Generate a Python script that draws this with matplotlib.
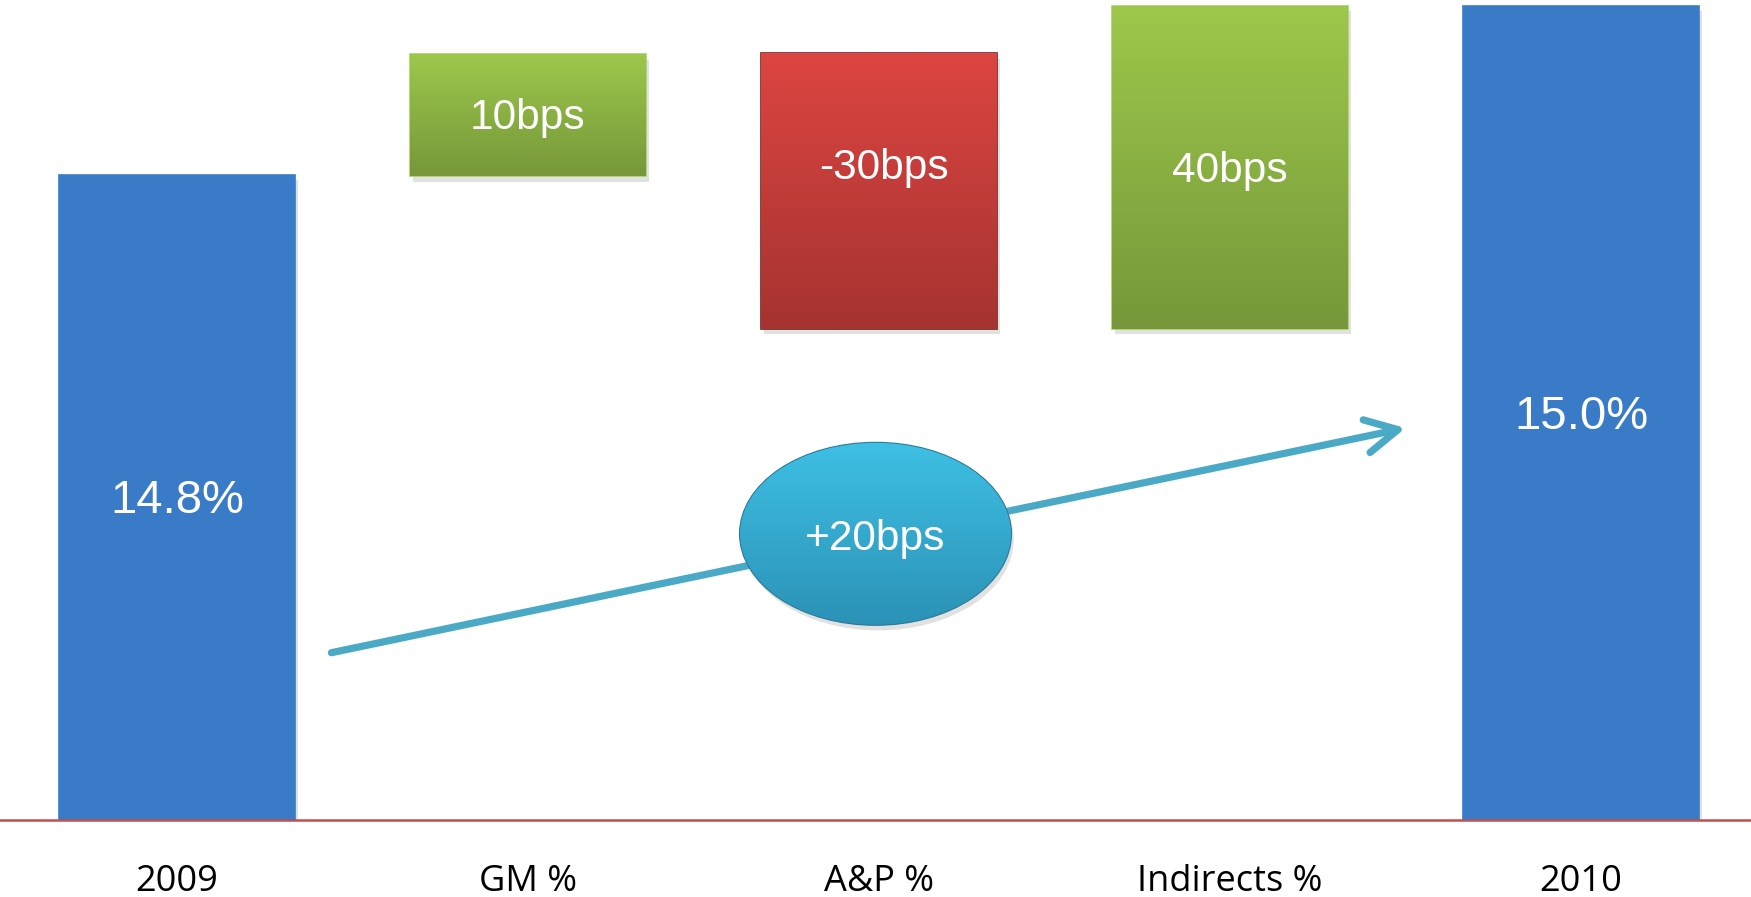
import numpy as np
import matplotlib
matplotlib.use('Agg')
import matplotlib.pyplot as plt
from matplotlib.colors import LinearSegmentedColormap
from matplotlib.patches import Ellipse
import matplotlib.patheffects as pe

# margin bridge 2009 -> 2010 (bars drawn as in the slide, not to scale)
categories = ['2009', 'GM %', 'A&P %', 'Indirects %', '2010']
bar_bottom = [0, 78.5, 59.9, 59.9, 0]
bar_top = [78.7, 93.4, 93.5, 99.3, 99.3]
bar_labels = ['14.8%', '10bps', '-30bps', '40bps', '15.0%']
bar_kind = ['total', 'up', 'down', 'up', 'total']
change_label = '+20bps'

# colours (top, bottom) per kind
kind_colors = {'total': ('#3a7bc8', '#3a7bc8'),
               'up': ('#9dc84b', '#76973a'),
               'down': ('#dc4541', '#a53331')}
edge_colors = {'total': '#3a7bc8', 'up': '#a9d160', 'down': '#6e2220'}

fig = plt.figure(figsize=(17.51, 8.97), dpi=100)
ax = fig.add_axes([0, 77/897, 1, 820/897])

def grad_fill(patch, top, bottom, extent, z):
    cmap = LinearSegmentedColormap.from_list('g', [bottom, top])
    im = ax.imshow(np.linspace(0, 1, 256).reshape(-1, 1), cmap=cmap, extent=extent,
                   origin='lower', aspect='auto', zorder=z, interpolation='bilinear')
    im.set_clip_path(patch)

x = np.arange(len(categories))
w = 0.672
heights = [t - b for t, b in zip(bar_top, bar_bottom)]
bars = ax.bar(x, heights, bottom=bar_bottom, width=w, zorder=2)
for b, k, xi, b0, t0 in zip(bars, bar_kind, x, bar_bottom, bar_top):
    top, bottom = kind_colors[k]
    b.set_facecolor(top)
    b.set_edgecolor(edge_colors[k])
    b.set_linewidth(1.2)
    b.set_path_effects([pe.SimplePatchShadow(offset=(2, -4), shadow_rgbFace='#888888', alpha=0.25),
                        pe.Normal()])
    if k != 'total':
        grad_fill(b, top, bottom, [xi - w/2, xi + w/2, b0, t0], 2.1)

# value labels inside bars
for xi, b0, t0, lab, k in zip(x, bar_bottom, bar_top, bar_labels, bar_kind):
    if k == 'total':
        size, dy = 34, -0.5
    else:
        size, dy = 30.5, (2.8 if k == 'down' else -0.4)
    dx = 0.013 if k == 'down' else 0
    ax.text(xi + dx, (b0 + t0) / 2 + dy, lab, color='white', fontsize=size,
            family='Liberation Sans', ha='center', va='center', zorder=5)

# overall change arrow + bubble
ax.annotate('', xy=(3.50, 47.8), xytext=(0.44, 20.4),
            arrowprops=dict(arrowstyle='->,head_length=1.15,head_width=0.6',
                            color='#4aaac6', lw=5.2, mutation_scale=20,
                            shrinkA=0, shrinkB=0, capstyle='round'),
            zorder=3)
ell = Ellipse((1.99, 34.9), 0.772, 22.2, facecolor='#36afd6', edgecolor='#2a7896',
              linewidth=1.5, zorder=4)
ell.set_path_effects([pe.SimplePatchShadow(offset=(2, -4), shadow_rgbFace='#888888', alpha=0.25),
                      pe.Normal()])
ax.add_patch(ell)
grad_fill(ell, '#3ec0e4', '#2b92b6', [1.99 - 0.386, 1.99 + 0.386, 34.9 - 11.1, 34.9 + 11.1], 4.1)
ax.text(1.99, 34.3, change_label, color='white', fontsize=30.5, family='Liberation Sans',
        ha='center', va='center', zorder=5)

ax.axhline(0, color='#c0504d', lw=1.8, clip_on=False, zorder=6)

ax.set_xlim(-0.504, 4.484)
ax.set_ylim(0, 100)
ax.set_xticks(x)
ax.set_xticklabels(categories, fontsize=26, family='Open Sans')
ax.tick_params(axis='x', length=0, pad=32)
ax.set_yticks([])
for s in ax.spines.values():
    s.set_visible(False)

plt.savefig('out.png', dpi=100)
